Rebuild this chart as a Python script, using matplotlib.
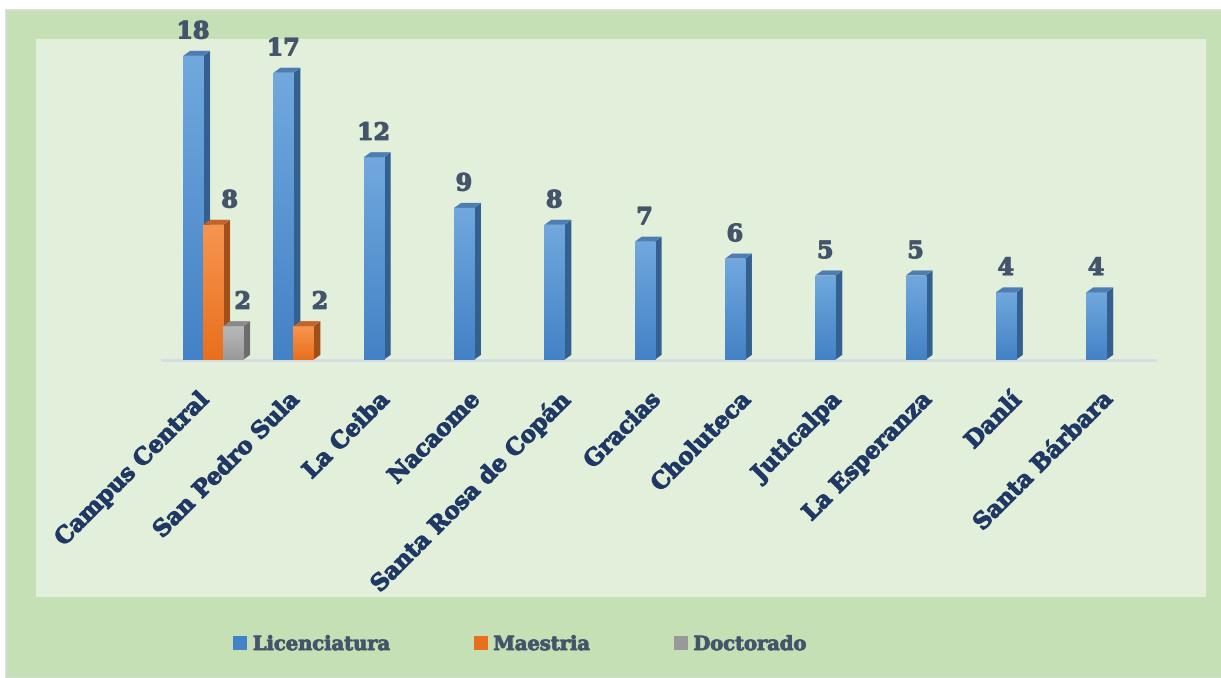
import numpy as np
import matplotlib
matplotlib.use('Agg')
import matplotlib.pyplot as plt
import matplotlib.patheffects as pe
import matplotlib.transforms as mtransforms
from matplotlib.patches import Rectangle, Polygon, Patch
from matplotlib.colors import LinearSegmentedColormap

# data
sedes = ['Campus Central', 'San Pedro Sula', 'La Ceiba', 'Nacaome',
         'Santa Rosa de Copán', 'Gracias', 'Choluteca', 'Juticalpa',
         'La Esperanza', 'Danlí', 'Santa Bárbara']
licenciatura = [18, 17, 12, 9, 8, 7, 6, 5, 5, 4, 4]
maestria = [8, 2, 0, 0, 0, 0, 0, 0, 0, 0, 0]
doctorado = [2, 0, 0, 0, 0, 0, 0, 0, 0, 0, 0]
series_names = ['Licenciatura', 'Maestria', 'Doctorado']

# styles: front gradient top, front gradient bottom, side, top face
styles = {
    'Licenciatura': ('#71A8DE', '#4382C6', '#33608F', '#4E7DB3'),
    'Maestria': ('#F79550', '#E8701C', '#A24E18', '#C0642B'),
    'Doctorado': ('#B9B9B9', '#999999', '#6C6C6C', '#8A8A8A'),
}
label_dx = {'Licenciatura': 0, 'Maestria': 12, 'Doctorado': 7}

W, H = 1221, 678
fig = plt.figure(figsize=(W / 100, H / 100), dpi=100)
fig.patch.set_facecolor('white')

# outer / inner chart areas
fig.patches.append(Rectangle((6 / W, 0), 1, 1 - 10 / H, transform=fig.transFigure,
                             facecolor='#C5E0B4', edgecolor='#D5D9DE', lw=1.2, zorder=-2))
fig.patches.append(Rectangle((36 / W, 1 - 597 / H), (1206 - 36) / W, (597 - 39) / H,
                             transform=fig.transFigure, facecolor='#E2EFDA',
                             edgecolor='none', zorder=-1))

ax = fig.add_axes([162 / W, 1 - 360 / H, 993 / W, 321 / H])
ax.set_facecolor('none')

w = 0.2215
ddx = 0.078
ddy = 0.30
x = np.arange(len(sedes))
offsets = [-w, 0, w]
grad = np.linspace(1, 0, 100).reshape(-1, 1)

for name, vals, off in zip(series_names, [licenciatura, maestria, doctorado], offsets):
    ctop, cbot, cside, ctopface = styles[name]
    cmap = LinearSegmentedColormap.from_list(name, [cbot, ctop])
    bars = ax.bar(x + off, vals, width=w, color='none', edgecolor='none', zorder=3)
    for xi, v, b in zip(x, vals, bars):
        if v == 0:
            continue
        x0 = xi + off - w / 2
        x1 = x0 + w
        im = ax.imshow(grad, cmap=cmap, aspect='auto', extent=(x0, x1, 0, v),
                       zorder=3, interpolation='bilinear')
        im.set_clip_path(b)
        ax.add_patch(Polygon([(x1, 0), (x1 + ddx, ddy), (x1 + ddx, v + ddy), (x1, v)],
                             closed=True, facecolor=cside, edgecolor='none', zorder=2.5))
        ax.add_patch(Polygon([(x0, v), (x0 + ddx, v + ddy), (x1 + ddx, v + ddy), (x1, v)],
                             closed=True, facecolor=ctopface, edgecolor='none', zorder=3.5))
        ax.annotate(str(v), (xi + off, v), xytext=(label_dx[name], 9),
                    textcoords='offset points', ha='center', va='bottom',
                    fontsize=17, fontweight='bold', family='DejaVu Serif',
                    color='#44546A', annotation_clip=False,
                    path_effects=[pe.withStroke(linewidth=0.9, foreground='#44546A')])

ax.set_xlim(-0.565, 10.43)
ax.set_ylim(0, 19.0)
ax.set_xticks(x)
ax.set_xticklabels(sedes, rotation=45, ha='right', fontsize=16.5, fontweight='bold',
                   family='DejaVu Serif', color='#1F3864')
shift = mtransforms.ScaledTranslation(4 / 100, 0, fig.dpi_scale_trans)
for t in ax.get_xticklabels():
    t.set_path_effects([pe.withStroke(linewidth=0.8, foreground='#1F3864')])
    t.set_transform(t.get_transform() + shift)
ax.tick_params(axis='x', length=0, pad=21)
ax.set_yticks([])
for s in ['top', 'left', 'right']:
    ax.spines[s].set_visible(False)
ax.spines['bottom'].set_color('#D6DCE4')
ax.spines['bottom'].set_linewidth(2)

handles = [Patch(facecolor=styles[n][1], edgecolor='none') for n in series_names]
leg = fig.legend(handles, series_names, loc='center', bbox_to_anchor=(520 / W, 1 - 645 / H),
                 ncol=3, frameon=False, handlelength=0.7, handleheight=0.7,
                 handletextpad=0.3, columnspacing=4.3,
                 prop={'family': 'DejaVu Serif', 'weight': 'bold', 'size': 14})
for t in leg.get_texts():
    t.set_color('#44546A')
    t.set_path_effects([pe.withStroke(linewidth=0.6, foreground='#44546A')])

fig.savefig('out.png', dpi=100)
